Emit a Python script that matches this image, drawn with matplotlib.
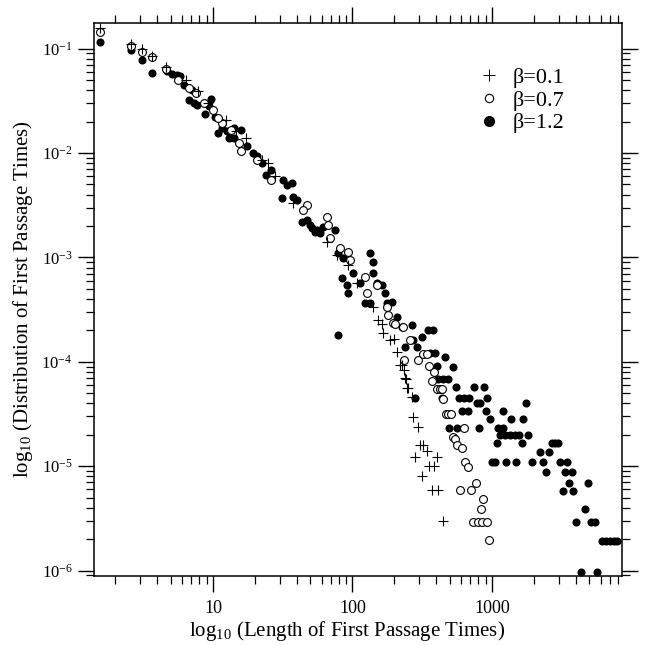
import matplotlib
matplotlib.use('Agg')
import matplotlib.pyplot as plt
from matplotlib.ticker import LogLocator, NullFormatter, FixedLocator, FixedFormatter
from matplotlib.lines import Line2D

plt.rcParams['font.family'] = ['Liberation Serif', 'DejaVu Serif']
plt.rcParams['mathtext.fontset'] = 'custom'
plt.rcParams['mathtext.rm'] = 'Liberation Serif'
plt.rcParams['mathtext.it'] = 'Liberation Serif:italic'
plt.rcParams['mathtext.bf'] = 'Liberation Serif:bold'

# ---------------- data ----------------
labels = ['\u03b2=0.1', '\u03b2=0.7', '\u03b2=1.2']

x_b01 = [1.55, 2.59, 3.11, 3.64, 4.58, 6.37, 7.81, 12.3, 17.2, 9.21, 14.6, 22.4,
         24.9, 27.8, 37.6, 65.3, 77.0, 93.3, 107.2, 141, 153, 166, 186, 207, 225,
         238, 245, 162, 198, 219, 234, 242, 251, 266, 273, 296, 305, 322, 340,
         281, 401, 355, 384, 313, 370, 412, 448]
y_b01 = [0.1576, 0.1114, 0.0991, 0.0855, 0.0662, 0.0497, 0.0390, 0.0208, 0.01392,
         0.0301, 0.01624, 0.00857, 0.00796, 0.00602, 0.0033, 0.001413, 0.001054,
         0.000846, 0.000565, 0.000337, 0.000251, 0.0001875, 0.0001617, 1.25e-4,
         9.3e-5, 6.95e-5, 5.57e-5, 2.30e-4, 1.64e-4, 9.3e-5, 8.3e-5, 6.8e-5,
         5.57e-5, 4.63e-5, 2.94e-5, 2.39e-5, 1.60e-5, 1.60e-5, 1.41e-5, 1.22e-5,
         1.22e-5, 1.0e-5, 1.0e-5, 8.05e-6, 5.9e-6, 5.9e-6, 2.99e-6]

x_b07 = [1.55, 2.59, 3.11, 3.64, 4.60, 5.61, 6.73, 8.62, 10.05, 11.7, 13.4, 15.4,
         15.8, 25.9, 7.56, 10.8, 20.7, 47.0, 44.4, 67.1, 69.0, 81.4, 95.9, 122.9,
         149, 126.4, 176, 196, 258, 65.3, 93.3, 180.5, 231, 202, 234, 296, 322,
         340, 355, 386, 370, 405, 424, 440, 448, 466, 486, 506, 630, 528, 543, 564,
         606, 640, 677, 768, 590, 703, 866, 830, 735, 798, 852, 916, 957]
y_b07 = [0.1433, 0.1052, 0.0922, 0.0825, 0.0638, 0.0504, 0.0419, 0.0301, 0.0256,
         0.0194, 0.01671, 0.01247, 0.01038, 0.00555, 0.0376, 0.0216, 0.00857,
         0.00318, 0.00284, 0.00204, 0.00152, 0.00122, 0.000944, 0.000653,
         0.000544, 0.000453, 0.000337, 0.000234, 0.0001617, 0.00245, 0.001133,
         0.000281, 0.000217, 2.30e-4, 1.04e-4, 1.04e-4, 1.19e-4, 1.19e-4, 9.1e-5,
         7.9e-5, 6.5e-5, 5.45e-5, 5.45e-5, 5.45e-5, 4.40e-5, 3.18e-5, 3.18e-5,
         3.18e-5, 2.31e-5, 1.92e-5, 1.81e-5, 1.60e-5, 1.50e-5, 1.09e-5, 9.9e-6,
         6.95e-6, 5.9e-6, 5.9e-6, 4.9e-6, 3.9e-6, 2.94e-6, 2.94e-6, 2.94e-6,
         2.94e-6, 1.96e-6]

x_b12 = [1.55, 2.59, 3.11, 3.64, 4.66, 5.11, 5.55, 5.80, 6.20, 7.11, 6.73, 7.31,
         7.72, 9.63, 8.72, 9.36, 10.3, 10.9, 11.7, 13.0, 15.8, 17.6, 19.4, 20.8,
         22.6, 23.9, 25.9, 31.9, 33.8, 36.7, 31.1, 37.6, 39.8, 43.2, 47.0, 51.0,
         53.8, 58.5, 61.8, 74.9, 79.1, 85.9, 133.5, 139.6, 83.7, 90.9, 93.3, 101.3,
         113.2, 141, 122.9, 133.5, 162, 171, 191, 207.5, 225, 266, 79.1, 238, 288.5,
         149, 176, 273, 313, 349, 380, 359, 390, 460, 528,
         12.66, 14.14, 14.14, 49.6, 55.4,
         401, 412, 448, 486, 281, 552, 743, 877, 436, 580, 630, 688, 925,
         777, 820, 1745, 606, 677, 906, 1194, 968, 1362, 1676,
         494, 564, 807, 1109, 1205, 1141, 1239, 1346, 1462, 1570, 1803,
         1091, 1633, 2679, 2831, 2987, 2208, 2576,
         996, 1052, 1253, 1479, 1945, 2333, 3070, 3467, 2440, 3336, 3724,
         3581, 4898, 3205, 3825, 4645, 3999, 5129, 5476,
         6112, 6561, 7015, 7499, 7914, 4345, 5660]
y_b12 = [0.1148, 0.0976, 0.0783, 0.0584, 0.0606, 0.0575, 0.0562, 0.0543, 0.0451,
         0.0404, 0.0324, 0.0301, 0.0290, 0.0329, 0.0236, 0.0280, 0.0221, 0.01555,
         0.01736, 0.01392, 0.01671, 0.01159, 0.0100, 0.00930, 0.00802, 0.00619,
         0.00692, 0.00551, 0.00494, 0.00513, 0.00368, 0.00381, 0.00355, 0.00220,
         0.00228, 0.00190, 0.00176, 0.00170, 0.00197, 0.00183, 0.001094, 0.00098,
         0.001094, 0.00091, 0.00063, 0.000544, 0.000453, 0.000704, 0.000565,
         0.000704, 0.000363, 0.000363, 0.000544, 0.000453, 0.000376, 0.000270,
         0.000217, 0.000225, 0.0001806, 0.0001395, 0.0001395, 0.000565, 0.000363,
         0.0001617, 0.0001739, 0.0002016, 0.0002016, 0.0001206, 0.0001206,
         0.0001119, 8.97e-5,
         0.01614, 0.01736, 0.01392, 0.00204, 0.00183,
         9.1e-5, 6.8e-5, 6.8e-5, 6.8e-5, 4.53e-5, 5.7e-5, 5.7e-5, 5.7e-5,
         4.53e-5, 4.53e-5, 4.53e-5, 4.53e-5, 4.53e-5,
         4.0e-5, 4.0e-5, 4.0e-5, 3.4e-5, 3.4e-5, 3.4e-5, 3.4e-5, 2.81e-5, 2.81e-5, 2.81e-5,
         2.31e-5, 2.31e-5, 2.31e-5, 2.31e-5, 2.31e-5, 1.99e-5, 1.99e-5, 1.99e-5,
         1.99e-5, 1.99e-5, 1.99e-5,
         1.68e-5, 1.68e-5, 1.68e-5, 1.68e-5, 1.68e-5, 1.38e-5, 1.38e-5,
         1.09e-5, 1.09e-5, 1.09e-5, 1.09e-5, 1.09e-5, 1.09e-5, 1.09e-5, 1.09e-5,
         8.8e-6, 8.8e-6, 8.8e-6,
         6.85e-6, 6.85e-6, 5.82e-6, 5.82e-6, 3.89e-6, 2.94e-6, 2.94e-6, 2.94e-6,
         1.93e-6, 1.93e-6, 1.93e-6, 1.93e-6, 1.93e-6, 9.6e-7, 9.6e-7]

x_ticks = [10, 100, 1000]
x_ticklabels = ['10', '100', '1000']
y_ticks = [1e-6, 1e-5, 1e-4, 1e-3, 1e-2, 1e-1]
y_ticklabels = [r'$10^{-6}$', r'$10^{-5}$', r'$10^{-4}$', r'$10^{-3}$',
                r'$10^{-2}$', r'$10^{-1}$']
x_label = r'log$_{10}$ (Length of First Passage Times)'
y_label = r'log$_{10}$ (Distribution of First Passage Times)'

# ---------------- figure ----------------
fig = plt.figure(figsize=(6.46, 6.45), dpi=100)
ax = fig.add_axes([94 / 646, 1 - 576 / 645, 528 / 646, 553 / 645])
ax.set_xscale('log')
ax.set_yscale('log')

ax.scatter(x_b12, y_b12, s=34, marker='o', color='black', linewidths=0, zorder=2)
ax.scatter(x_b07, y_b07, s=32, marker='o', facecolors='white', edgecolors='black',
           linewidths=0.8, zorder=3)
ax.scatter(x_b01, y_b01, s=44, marker='+', color='black', linewidths=0.8, zorder=4)

ax.set_xlim(1.403, 8551)
ax.set_ylim(8.88e-7, 0.1759)

ax.xaxis.set_major_locator(FixedLocator(x_ticks))
ax.xaxis.set_major_formatter(FixedFormatter(x_ticklabels))
ax.xaxis.set_minor_locator(LogLocator(base=10, subs=range(2, 10), numticks=20))
ax.xaxis.set_minor_formatter(NullFormatter())
ax.yaxis.set_major_locator(FixedLocator(y_ticks))
ax.yaxis.set_major_formatter(FixedFormatter(y_ticklabels))
ax.yaxis.set_minor_locator(LogLocator(base=10, subs=range(2, 10), numticks=20))
ax.yaxis.set_minor_formatter(NullFormatter())

ax.tick_params(which='both', direction='out', top=True, right=True, color='black')
ax.tick_params(which='major', length=11.5, width=1.0)
ax.tick_params(which='minor', length=5.8, width=0.9)
ax.tick_params(axis='x', which='major', labelsize=13, pad=6)
ax.tick_params(axis='y', which='major', labelsize=12, pad=4)
for sp in ax.spines.values():
    sp.set_linewidth(1.1)

ax.set_xlabel(x_label, fontsize=15, labelpad=3)
ax.xaxis.set_label_coords(0.48, -0.078)
ax.set_ylabel(y_label, fontsize=15, labelpad=5)

handles = [
    Line2D([], [], linestyle='none', marker='+', markersize=9, markeredgewidth=0.7,
           color='black'),
    Line2D([], [], linestyle='none', marker='o', markersize=6, markeredgewidth=0.8,
           markerfacecolor='white', markeredgecolor='black'),
    Line2D([], [], linestyle='none', marker='o', markersize=7, color='black'),
]
ax.legend(handles, labels, loc='upper left', bbox_to_anchor=(0.728, 0.92),
          frameon=False, fontsize=16, borderpad=0, borderaxespad=0,
          handlelength=1.0, handletextpad=0.55, labelspacing=0.1)

fig.savefig('out.png', dpi=100)
